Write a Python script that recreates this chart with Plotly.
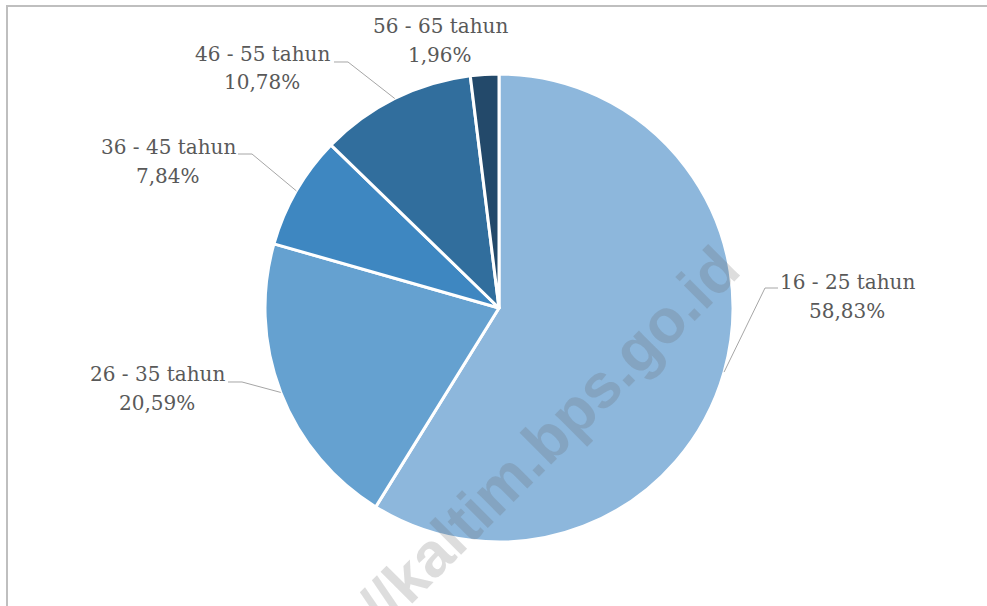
import math
import plotly.graph_objects as go

# Age groups and their shares (%)
categories = ["16 - 25 tahun", "26 - 35 tahun", "36 - 45 tahun", "46 - 55 tahun", "56 - 65 tahun"]
shares = [58.83, 20.59, 7.84, 10.78, 1.96]
colors = ["#8DB7DC", "#65A1D0", "#3E87C1", "#316E9D", "#23496A"]

W, H = 987, 606
CX, CY, R = 499, 308, 234  # pie centre / radius in px


def px_x(x):
    return x / W


def px_y(y):
    return 1 - y / H


# label placement (px): name line centre, percent line centre, elbow points of leader line
label_layout = {
    "16 - 25 tahun": dict(x=847, y1=282, y2=311, elbow=[(778, 288), (765, 288)]),
    "26 - 35 tahun": dict(x=157, y1=374, y2=403, elbow=[(228, 382), (242, 382)]),
    "36 - 45 tahun": dict(x=168, y1=147, y2=176, elbow=[(238, 154), (252, 154)]),
    "46 - 55 tahun": dict(x=262, y1=54, y2=82, elbow=[(334, 62), (348, 62)]),
    "56 - 65 tahun": dict(x=440, y1=26, y2=55, elbow=None),
}

fig = go.Figure(go.Pie(
    labels=categories,
    values=shares,
    sort=False,
    direction="clockwise",
    rotation=0,
    textinfo="none",
    hoverinfo="label+percent",
    marker=dict(colors=colors, line=dict(color="white", width=3)),
    domain=dict(x=[px_x(CX - R), px_x(CX + R)], y=[px_y(CY + R), px_y(CY - R)]),
    showlegend=False,
))

annotations = []
shapes = []
total = sum(shares)
start = 0.0
for cat, val in zip(categories, shares):
    span = val / total * 360
    mid = math.radians(start + span / 2)
    start += span
    lay = label_layout[cat]
    pct = f"{val:.2f}".replace(".", ",") + "%"
    for txt, yy in ((cat, lay["y1"]), (pct, lay["y2"])):
        annotations.append(dict(
            x=px_x(lay["x"]), y=px_y(yy), xref="paper", yref="paper",
            text=txt, showarrow=False, xanchor="center", yanchor="middle",
            font=dict(family="DejaVu Serif", size=20, color="#595959"),
        ))
    if lay["elbow"]:
        ex = CX + R * math.sin(mid)
        ey = CY - R * math.cos(mid)
        pts = lay["elbow"] + [(ex, ey)]
        path = "M " + " L ".join(f"{px_x(a):.5f},{px_y(b):.5f}" for a, b in pts)
        shapes.append(dict(type="path", path=path, xref="paper", yref="paper",
                           line=dict(color="#A6A6A6", width=1)))

# chart frame
shapes.append(dict(type="rect", xref="paper", yref="paper",
                   x0=px_x(7), x1=1.02, y0=-0.02, y1=px_y(6),
                   line=dict(color="#BFBFBF", width=2), fillcolor="rgba(0,0,0,0)"))

# site watermark
annotations.append(dict(
    x=px_x(488), y=px_y(498), xref="paper", yref="paper",
    text="<b>https://kaltim.bps.go.id</b>", showarrow=False, textangle=-45,
    xanchor="center", yanchor="middle",
    font=dict(family="Liberation Sans", size=62, color="rgba(100,100,100,0.22)"),
))

fig.update_layout(
    width=W, height=H,
    margin=dict(l=0, r=0, t=0, b=0),
    paper_bgcolor="white",
    plot_bgcolor="white",
    annotations=annotations,
    shapes=shapes,
)

fig.write_html("out.html")
